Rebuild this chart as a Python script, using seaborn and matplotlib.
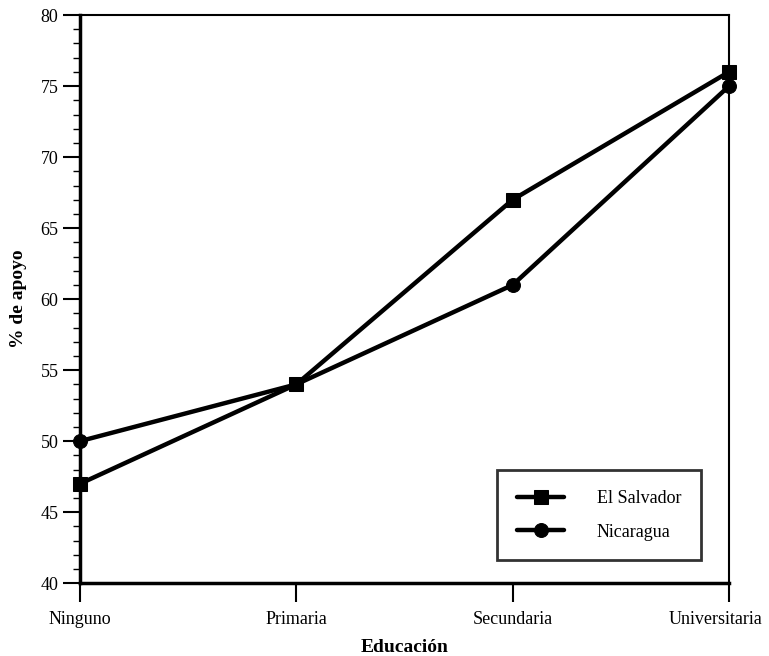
import matplotlib
matplotlib.use("Agg")
import matplotlib.pyplot as plt
import matplotlib.transforms as mtransforms
import seaborn as sns
import pandas as pd
from matplotlib.ticker import MultipleLocator

categories = ["Ninguno", "Primaria", "Secundaria", "Universitaria"]
el_salvador = [47, 54, 67, 76]
nicaragua = [50, 54, 61, 75]

df = pd.DataFrame({
    "Educación": categories * 2,
    "apoyo": el_salvador + nicaragua,
    "País": ["El Salvador"] * 4 + ["Nicaragua"] * 4,
})

sns.set_style("ticks")
plt.rcParams["font.family"] = ["Liberation Serif", "DejaVu Serif"]
plt.rcParams["text.color"] = "black"
plt.rcParams["axes.labelcolor"] = "black"
plt.rcParams["xtick.color"] = "black"
plt.rcParams["ytick.color"] = "black"

fig = plt.figure(figsize=(7.69, 6.56), dpi=100)
ax = fig.add_axes([0.104, 0.111, 0.844, 0.866])

sns.lineplot(data=df, x="Educación", y="apoyo", hue="País", style="País",
             markers={"El Salvador": "s", "Nicaragua": "o"}, dashes=False,
             palette={"El Salvador": "black", "Nicaragua": "black"},
             linewidth=3.2, markersize=10, markeredgecolor="black", ax=ax, sort=False)
for ln in ax.lines:
    ln.set_clip_on(False)

ax.set_xlim(0, 3)
ax.set_ylim(40, 80)
ax.yaxis.set_major_locator(MultipleLocator(5))
ax.yaxis.set_minor_locator(MultipleLocator(1))
ax.tick_params(axis="y", which="major", length=12, width=1.5, direction="out", labelsize=13)
ax.tick_params(axis="y", which="minor", length=5, width=1, direction="out")
ax.tick_params(axis="x", which="major", length=14, width=1.5, direction="out", labelsize=13, pad=6)
for s in ax.spines.values():
    s.set_linewidth(1.5)
    s.set_color("black")
ax.spines["left"].set_linewidth(2.5)
ax.spines["bottom"].set_linewidth(2.5)

ax.set_xlabel("Educación", fontsize=14, fontweight="bold", labelpad=8)
ax.set_ylabel("% de apoyo", fontsize=14, fontweight="bold", labelpad=10)

xlabels = ax.get_xticklabels()
xlabels[-1].set_transform(xlabels[-1].get_transform() +
                          mtransforms.ScaledTranslation(-0.13, 0, fig.dpi_scale_trans))

handles, labels = ax.get_legend_handles_labels()
leg = ax.legend(handles, labels, loc="lower right", bbox_to_anchor=(0.957, 0.04),
                frameon=True, fancybox=False, edgecolor="black", fontsize=13,
                handlelength=2.6, borderpad=1.1, labelspacing=0.9, handletextpad=1.8,
                borderaxespad=0)
leg.get_frame().set_linewidth(2)
leg.get_frame().set_edgecolor("black")
for t in leg.get_texts():
    t.set_color("black")

fig.savefig("out.png", dpi=100)
